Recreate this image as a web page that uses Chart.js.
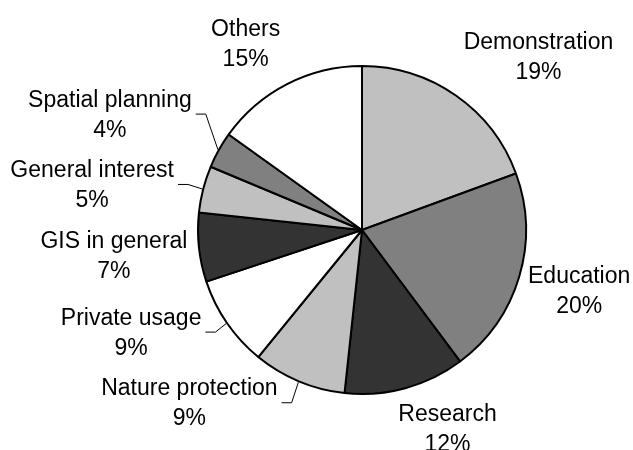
<!DOCTYPE html>
<html lang="en">
<head>
  <meta charset="UTF-8" />
  <title>Usage pie</title>
  <script src="https://cdn.jsdelivr.net/npm/chart.js"></script>
  <style>
    html, body {
      margin: 0;
      padding: 0;
      background: #fff;
    }
    canvas {
      display: block;
    }
  </style>
</head>
<body>
  <canvas id="pie" width="633" height="450"></canvas>

  <script>
    // slices, clockwise from 12 o'clock
    const categories = ['Demonstration', 'Education', 'Research', 'Nature protection', 'Private usage',
      'GIS in general', 'General interest', 'Spatial planning', 'Others'];
    const shares = [19.4, 20.4, 11.9, 9.2, 9.0, 6.8, 4.6, 3.6, 15.1];
    const fills = ['#c0c0c0', '#808080', '#333333', '#c0c0c0', '#ffffff',
      '#333333', '#c0c0c0', '#808080', '#ffffff'];

    // label nudge from the slice's outer edge (at its mid angle), and whether it gets a leader line
    const labelNudge = [[82, -39], [59, 13], [42, 39], [-109, 20], [-95, 8],
      [-84, 7], [-110, -5], [-108, -36], [-41, -40]];
    const withLeader = [false, false, false, true, true, false, true, true, false];

    const FONT = '23px "Liberation Sans", Arial, sans-serif';
    const LINE_GAP = 30;

    const pieLabels = {
      id: 'pieLabels',
      afterDatasetsDraw(chart) {
        const ctx = chart.ctx;
        const meta = chart.getDatasetMeta(0);
        const total = shares.reduce((a, b) => a + b, 0);
        ctx.save();
        ctx.font = FONT;
        ctx.fillStyle = '#000';
        ctx.textAlign = 'center';
        ctx.textBaseline = 'alphabetic';
        const capHalf = 23 * 0.716 / 2;

        meta.data.forEach((arc, i) => {
          const p = arc.getProps(['x', 'y', 'startAngle', 'endAngle', 'outerRadius'], true);
          const mid = (p.startAngle + p.endAngle) / 2;
          const r = p.outerRadius + 1;
          const ex = p.x + Math.cos(mid) * r;
          const ey = p.y + Math.sin(mid) * r;
          const lx = ex + labelNudge[i][0];
          const ly = ey + labelNudge[i][1];
          const pct = Math.round(shares[i] / total * 100) + '%';

          ctx.fillText(categories[i], lx, ly - LINE_GAP / 2 + capHalf);
          ctx.fillText(pct, lx, ly + LINE_GAP / 2 + capHalf);

          if (withLeader[i]) {
            const w = ctx.measureText(categories[i]).width;
            const sx = lx + w / 2 + 4;
            ctx.beginPath();
            ctx.strokeStyle = '#000';
            ctx.lineWidth = 1;
            ctx.moveTo(sx, ly + 0.5);
            ctx.lineTo(sx + 10, ly + 0.5);
            ctx.lineTo(ex, ey);
            ctx.stroke();
          }
        });
        ctx.restore();
      }
    };

    new Chart(document.getElementById('pie').getContext('2d'), {
      type: 'pie',
      data: {
        labels: categories,
        datasets: [{
          data: shares,
          backgroundColor: fills,
          borderColor: '#000',
          borderWidth: 2,
          hoverOffset: 0,
          radius: 164
        }]
      },
      options: {
        responsive: false,
        animation: false,
        layout: { padding: { left: 170, right: 79, top: 66, bottom: 56 } },
        plugins: {
          legend: { display: false },
          tooltip: { enabled: false }
        }
      },
      plugins: [pieLabels]
    });
  </script>
</body>
</html>
